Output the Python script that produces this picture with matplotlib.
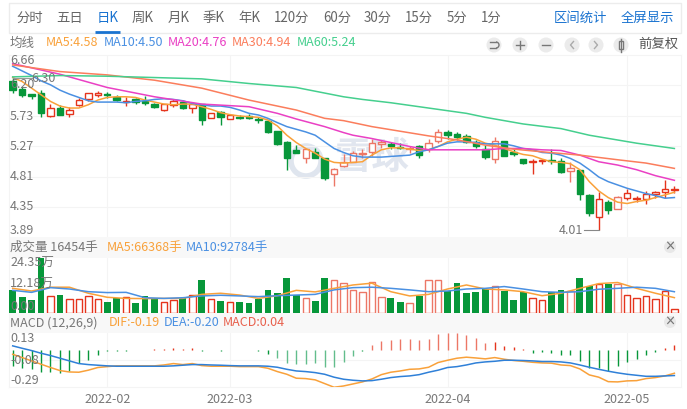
import matplotlib
matplotlib.use('Agg')
import matplotlib.pyplot as plt
from matplotlib.patches import Circle, Rectangle, Arc

plt.rcParams['font.family'] = ['Noto Sans CJK SC', 'DejaVu Sans']

# daily candles
opens = [6.26, 6.13, 6.06, 6.08, 5.735, 5.856, 5.755, 5.896, 5.99, 6.05, 6.067, 6.02, 5.94, 5.99, 5.956, 5.916,
         5.815, 5.896, 5.94, 5.85, 5.906, 5.705, 5.795, 5.69, 5.72, 5.725, 5.685, 5.655, 5.504, 5.343, 5.217,
         5.101, 5.192, 5.091, 4.85, 4.98, 5.04, 5.152, 5.192, 5.312, 5.312, 5.267, 5.232, 5.277, 5.232, 5.358,
         5.494, 5.454, 5.428, 5.333, 5.227, 5.076, 5.358, 5.192, 5.076, 5.03, 5.05, 5.071, 5.056, 4.90, 4.92,
         4.54, 4.206, 4.427, 4.332, 4.498, 4.475, 4.483, 4.56, 4.59, 4.62]
closes = [6.12, 6.04, 6.03, 5.77, 5.856, 5.745, 5.826, 5.97, 6.07, 6.07, 6.047, 5.97, 5.956, 5.94, 5.93, 5.86,
          5.91, 5.956, 5.846, 5.91, 5.67, 5.77, 5.71, 5.75, 5.695, 5.705, 5.67, 5.494, 5.307, 5.091, 5.167,
          5.232, 5.101, 4.79, 4.925, 5.04, 5.167, 5.177, 5.328, 5.338, 5.277, 5.247, 5.252, 5.141, 5.328, 5.483,
          5.444, 5.418, 5.342, 5.282, 5.116, 5.358, 5.132, 5.152, 5.02, 5.045, 5.066, 5.05, 4.88, 4.95, 4.55,
          4.26, 4.483, 4.306, 4.503, 4.573, 4.49, 4.558, 4.58, 4.63, 4.635]
highs = [6.30, 6.16, 6.06, 6.12, 5.91, 5.90, 5.87, 5.997, 6.07, 6.10, 6.09, 6.047, 6.01, 6.007, 6.03, 5.93,
         5.915, 5.987, 5.97, 5.936, 5.906, 5.77, 5.805, 5.76, 5.745, 5.76, 5.71, 5.66, 5.504, 5.358, 5.29,
         5.232, 5.242, 5.10, 4.95, 5.15, 5.20, 5.23, 5.38, 5.37, 5.34, 5.32, 5.28, 5.29, 5.38, 5.53,
         5.52, 5.494, 5.458, 5.368, 5.29, 5.41, 5.358, 5.226, 5.086, 5.076, 5.076, 5.226, 5.09, 5.03, 4.92,
         4.56, 4.59, 4.46, 4.52, 4.63, 4.53, 4.60, 4.60, 4.76, 4.67]
lows = [6.08, 6.01, 5.98, 5.72, 5.72, 5.745, 5.72, 5.88, 5.956, 6.01, 6.007, 5.956, 5.886, 5.91, 5.896, 5.846,
        5.805, 5.87, 5.835, 5.77, 5.594, 5.695, 5.594, 5.68, 5.68, 5.685, 5.62, 5.47, 5.29, 4.916, 5.167,
        5.025, 5.101, 4.765, 4.68, 4.965, 5.03, 5.10, 5.126, 5.25, 5.226, 5.226, 5.17, 5.10, 5.19, 5.33,
        5.39, 5.37, 5.317, 5.24, 5.08, 5.025, 5.132, 5.126, 5.01, 4.86, 5.006, 5.0, 4.865, 4.735, 4.47,
        4.226, 4.01, 4.246, 4.33, 4.47, 4.43, 4.41, 4.49, 4.50, 4.57]

ma5 = [6.31, 6.25, 6.15, 6.05, 5.95, 5.88, 5.85, 5.85, 5.90, 5.97, 6.01, 6.02, 6.02, 6.01, 5.97, 5.94, 5.91, 5.90,
       5.91, 5.91, 5.87, 5.83, 5.78, 5.75, 5.73, 5.72, 5.71, 5.67, 5.58, 5.44, 5.33, 5.24, 5.17, 5.08, 5.03, 5.02,
       5.03, 5.04, 5.14, 5.22, 5.25, 5.25, 5.23, 5.21, 5.22, 5.27, 5.34, 5.38, 5.41, 5.38, 5.32, 5.29, 5.24, 5.19,
       5.15, 5.13, 5.08, 5.04, 5.03, 5.01, 4.92, 4.74, 4.60, 4.50, 4.43, 4.41, 4.44, 4.46, 4.50, 4.54, 4.58]
ma10 = [6.48, 6.41, 6.34, 6.26, 6.20, 6.12, 6.06, 6.01, 5.96, 5.94, 5.94, 5.94, 5.93, 5.95, 5.96, 5.98, 5.99, 5.98,
        5.96, 5.92, 5.90, 5.88, 5.88, 5.86, 5.82, 5.77, 5.745, 5.695, 5.63, 5.57, 5.53, 5.49, 5.44, 5.34, 5.24, 5.18,
        5.13, 5.11, 5.11, 5.11, 5.12, 5.13, 5.14, 5.19, 5.22, 5.27, 5.32, 5.34, 5.34, 5.33, 5.31, 5.31, 5.31, 5.28,
        5.24, 5.22, 5.18, 5.17, 5.14, 5.09, 5.02, 4.92, 4.81, 4.74, 4.69, 4.64, 4.60, 4.56, 4.53, 4.49, 4.50]
ma20_idx = [0, 5, 10, 15, 20, 25, 28, 30, 33, 35, 36, 38, 40, 42, 44, 46, 48, 50, 52, 54, 56, 58, 60, 62, 64, 66, 68, 70]
ma20 = [6.52, 6.36, 6.16, 6.02, 5.91, 5.87, 5.77, 5.685, 5.57, 5.48, 5.44, 5.39, 5.33, 5.27, 5.22, 5.22, 5.22, 5.22,
        5.24, 5.24, 5.22, 5.21, 5.14, 5.04, 4.99, 4.92, 4.83, 4.76]
ma30_idx = [0, 5, 10, 15, 20, 25, 27, 30, 33, 35, 38, 41, 44, 47, 50, 53, 56, 60, 64, 67, 70]
ma30 = [6.50, 6.40, 6.35, 6.27, 6.15, 5.97, 5.91, 5.82, 5.695, 5.66, 5.57, 5.50, 5.43, 5.37, 5.29, 5.23, 5.19, 5.14,
        5.07, 5.02, 4.94]
ma60_idx = [0, 5, 10, 15, 20, 25, 30, 35, 37, 40, 45, 48, 50, 54, 58, 61, 66, 70]
ma60 = [6.32, 6.34, 6.33, 6.31, 6.29, 6.22, 6.16, 6.02, 5.98, 5.93, 5.83, 5.77, 5.71, 5.61, 5.54, 5.44, 5.32, 5.24]

# volume, in units of 10k shares
volume = [10.1, 6.9, 5.7, 24.35, 7.4, 7.8, 6.2, 6.2, 7.4, 6.2, 4.8, 6.5, 6.8, 4.4, 7.5, 6.5, 4.8, 5.6, 6.5, 7.8,
          14.3, 6.2, 5.3, 4.8, 4.8, 4.4, 5.9, 10.2, 8.9, 15.6, 7.7, 6.5, 5.3, 15.2, 14.3, 13.4, 10.1, 9.2, 13.8, 7.1,
          6.3, 4.8, 4.2, 7.4, 14.3, 14.3, 9.6, 13.4, 8.9, 9.3, 10.5, 12.0, 9.8, 5.7, 9.3, 6.6, 5.6, 9.0, 10.2, 9.6,
          15.3, 12.0, 12.9, 12.6, 12.9, 7.8, 6.6, 7.4, 6.2, 9.5, 1.65]
vol_idx = list(range(0, 71, 2))
vol_ma5 = [10.8, 9.6, 11.3, 11.3, 8.6, 6.8, 6.3, 6.2, 6.3, 6.3, 8.1, 8.6, 7.8, 6.3, 7.5, 9.9, 9.2, 10.8,
           12.3, 13.1, 9.3, 7.4, 8.1, 10.5, 12.3, 10.5, 10.1, 9.3, 7.5, 8.6, 10.8, 12.9, 13.4, 10.8, 8.6, 6.64]
vol_ma10 = [9.9, 9.0, 11.1, 10.5, 9.3, 8.9, 9.0, 6.6, 6.3, 6.6, 7.4, 7.7, 7.4, 7.1, 7.5, 7.8, 8.1, 10.1,
            11.1, 11.3, 10.8, 10.1, 9.3, 9.6, 10.5, 10.8, 11.6, 10.5, 9.3, 9.0, 9.3, 10.4, 10.8, 11.3, 10.8, 9.28]

dif = [-0.037, -0.063, -0.089, -0.115, -0.141, -0.165, -0.176, -0.178, -0.162, -0.141, -0.134, -0.128, -0.128, -0.128,
       -0.128, -0.128, -0.121, -0.110, -0.118, -0.110, -0.126, -0.131, -0.131, -0.131, -0.134, -0.134, -0.134, -0.147,
       -0.173, -0.194, -0.225, -0.228, -0.238, -0.267, -0.296, -0.286, -0.270, -0.254, -0.231, -0.197, -0.178, -0.168,
       -0.155, -0.152, -0.139, -0.102, -0.084, -0.068, -0.060, -0.066, -0.073, -0.063, -0.076, -0.086, -0.092, -0.100,
       -0.105, -0.107, -0.121, -0.126, -0.152, -0.199, -0.217, -0.252, -0.254, -0.246, -0.244, -0.228, -0.220, -0.207,
       -0.186]
dea = [0.029, 0.010, -0.008, -0.029, -0.047, -0.068, -0.089, -0.110, -0.118, -0.123, -0.128, -0.131, -0.131, -0.131,
       -0.131, -0.131, -0.131, -0.128, -0.123, -0.118, -0.118, -0.121, -0.123, -0.126, -0.128, -0.128, -0.128, -0.131,
       -0.139, -0.155, -0.168, -0.173, -0.181, -0.194, -0.217, -0.233, -0.241, -0.246, -0.244, -0.233, -0.220, -0.212,
       -0.207, -0.197, -0.178, -0.162, -0.141, -0.134, -0.121, -0.105, -0.097, -0.092, -0.084, -0.084, -0.086, -0.089,
       -0.094, -0.094, -0.097, -0.105, -0.121, -0.139, -0.155, -0.170, -0.183, -0.194, -0.202, -0.210, -0.210, -0.207,
       -0.204]
macd = [-0.128, -0.147, -0.155, -0.178, -0.176, -0.186, -0.165, -0.105, -0.081, -0.042, -0.013, -0.008, -0.008, -0.002,
        0.0, 0.002, 0.002, 0.016, 0.008, 0.016, -0.008, -0.006, -0.010, -0.006, -0.006, -0.006, -0.010, -0.031,
        -0.063, -0.102, -0.113, -0.110, -0.107, -0.134, -0.139, -0.094, -0.047, -0.010, 0.037, 0.068, 0.076, 0.086,
        0.086, 0.076, 0.084, 0.121, 0.128, 0.128, 0.113, 0.094, 0.052, 0.060, 0.026, 0.018, 0.005, -0.024,
        -0.021, -0.024, -0.039, -0.039, -0.089, -0.147, -0.147, -0.165, -0.128, -0.094, -0.073, -0.039, -0.016, 0.010,
        0.037]

price_ticks = [6.66, 6.20, 5.73, 5.27, 4.81, 4.35, 3.89]
month_idx = [10, 23, 46, 65]
month_labels = ['2022-02', '2022-03', '2022-04', '2022-05']
# candles and bars that look washed out in the picture
faded = [31, 34, 35, 36, 37, 38, 39, 42, 44, 45, 51, 59, 64]
periods = ['分时', '五日', '日K', '周K', '月K', '季K', '年K', '120分', '60分', '30分', '15分', '5分', '1分']

RED = '#e5341d'
SOFT_RED = '#ec7766'
GREEN = '#07973a'
SOFT_GREEN = '#62bd8c'
ORANGE = '#f9a13a'
BLUE = '#4a90e2'
PINK = '#ea40c4'
CORAL = '#fb7d5c'
MINT = '#45cf8e'
GRAY = '#777777'
GRID = '#f4f4f4'

W, H = 687, 409
fig = plt.figure(figsize=(W / 100, H / 100), dpi=100, facecolor='white')


def panel(left, top, right, bottom, zorder):
    a = fig.add_axes([left / W, 1 - bottom / H, (right - left) / W, (bottom - top) / H], zorder=zorder)
    a.patch.set_alpha(0)
    for s in a.spines.values():
        s.set_visible(False)
    a.set_xticks([])
    a.set_yticks([])
    return a


# pixel-space layers for the page furniture
bg = panel(0, 0, W, H, 0)
bg.set_xlim(0, W)
bg.set_ylim(H, 0)
top = panel(0, 0, W, H, 10)
top.set_xlim(0, W)
top.set_ylim(H, 0)

bg.add_patch(Rectangle((9, 3), 672, 30, fc='white', ec='#ececec', lw=1))
bg.add_patch(Rectangle((9, 237), 672, 21, fc='#f8f8f8', ec='none'))
bg.add_patch(Rectangle((9, 313), 672, 20, fc='#f8f8f8', ec='none'))
for xp in [9, 681]:
    bg.plot([xp, xp], [55, 387], color=GRID, lw=0.8)
bg.plot([9, 681], [55, 55], color=GRID, lw=0.8)
bg.plot([9, 681], [387, 387], color=GRID, lw=0.8)

# watermark
bg.add_patch(Circle((306, 161), 15, fc='none', ec='#dfe5ee', lw=4))
bg.text(372, 157, '雪球', fontsize=27, color='#e1e6ef', ha='center', va='center', fontweight='bold')

# period tabs
tab_x = [30, 70, 108, 143, 179, 214, 249, 292, 337, 378, 419, 457, 491]
for name, xp in zip(periods, tab_x):
    top.text(xp, 18, name, fontsize=9.6, color='#1a73d0' if name == '日K' else '#666666', ha='center', va='center')
top.plot([95, 120], [31.5, 31.5], color='#1a73d0', lw=2, solid_capstyle='butt')
top.text(580, 18, '区间统计', fontsize=9.6, color='#1a73d0', ha='center', va='center')
top.text(647, 18, '全屏显示', fontsize=9.6, color='#1a73d0', ha='center', va='center')

# legend rows
top.text(10, 43, '均线', fontsize=9, color=GRAY, va='center')
for txt, xp, col in [('MA5:4.58', 46, ORANGE), ('MA10:4.50', 104, BLUE), ('MA20:4.76', 168, PINK),
                     ('MA30:4.94', 232, CORAL), ('MA60:5.24', 297, MINT)]:
    top.text(xp, 43, txt, fontsize=9, color=col, va='center')
top.text(10, 247, '成交量 16454手', fontsize=9, color=GRAY, va='center')
top.text(107, 247, 'MA5:66368手', fontsize=9, color=ORANGE, va='center')
top.text(186, 247, 'MA10:92784手', fontsize=9, color=BLUE, va='center')
top.text(10, 323, 'MACD (12,26,9)', fontsize=9, color=GRAY, va='center')
top.text(109, 323, 'DIF:-0.19', fontsize=9, color=ORANGE, va='center')
top.text(164, 323, 'DEA:-0.20', fontsize=9, color=BLUE, va='center')
top.text(223, 323, 'MACD:0.04', fontsize=9, color='#e8604c', va='center')

# toolbar buttons
for xp in [494, 520, 546, 572, 596, 621]:
    bg.add_patch(Circle((xp, 45), 7.5, fc='#ebebeb', ec='none'))
ICON = '#777777'
top.add_patch(Arc((496, 45), 6, 6, theta1=-90, theta2=90, color=ICON, lw=1))
top.plot([490, 496], [42, 42], color=ICON, lw=1)
top.plot([490, 496], [48, 48], color=ICON, lw=1)
top.plot([516, 524], [45, 45], color=ICON, lw=1)
top.plot([520, 520], [41, 49], color=ICON, lw=1)
top.plot([542, 550], [45, 45], color=ICON, lw=1)
top.plot([573.5, 570.5, 573.5], [41.5, 45, 48.5], color='#aaaaaa', lw=1)
top.plot([594.5, 597.5, 594.5], [41.5, 45, 48.5], color='#aaaaaa', lw=1)
top.add_patch(Rectangle((619, 41), 4, 8, fc='white', ec=ICON, lw=1))
top.plot([621, 621], [38.5, 51.5], color=ICON, lw=1)
top.text(658, 44, '前复权', fontsize=9.6, color='#555555', ha='center', va='center')
for yp in [247, 322]:
    bg.add_patch(Circle((670, yp), 6, fc='#e8e8e8', ec='none'))
    top.text(670, yp, '×', fontsize=8, color='#777777', ha='center', va='center', fontweight='bold')

xlim = (-0.39, 70.7)
x = list(range(len(closes)))

# price panel
ax = panel(9, 55, 681, 237, 2)
ax.set_xlim(xlim)
ax.set_ylim(3.905, 6.65)
for m in month_idx:
    ax.axvline(m, color=GRID, lw=0.8, zorder=0)
for t in price_ticks[1:-1]:
    ax.axhline(t, color=GRID, lw=0.8, zorder=0)

for i in x:
    up = closes[i] >= opens[i]
    if up:
        col = SOFT_RED if i in faded else RED
    else:
        col = GREEN
    ax.vlines(i, lows[i], highs[i], color=col, lw=1, zorder=2)
    b0 = min(opens[i], closes[i])
    h = abs(closes[i] - opens[i])
    ax.bar(i, h, bottom=b0, width=0.68, facecolor='white' if up else GREEN, edgecolor=col, lw=1, zorder=3)

ax.plot(x, ma5, color=ORANGE, lw=1.1, zorder=4)
ax.plot(x, ma10, color=BLUE, lw=1.1, zorder=4)
ax.plot(ma20_idx, ma20, color=PINK, lw=1.1, zorder=4)
ax.plot(ma30_idx, ma30, color=CORAL, lw=1.1, zorder=4)
ax.plot(ma60_idx, ma60, color=MINT, lw=1.1, zorder=4)

# high / low markers
ax.plot([0, 2], [6.30, 6.30], color='#999999', lw=0.8, zorder=5)
ax.text(2.0, 6.30, '6.30', fontsize=9, color=GRAY, va='center', zorder=6)
ax.plot([60.4, 62], [4.01, 4.01], color='#888888', lw=0.8, zorder=5)
ax.text(60.3, 4.01, '4.01', fontsize=9, color=GRAY, va='center', ha='right', zorder=6)

# price labels, the first and last are pushed inside the panel
label_y = [60, 84, 116, 146, 177, 206, 231]
for t, yp in zip(price_ticks, label_y):
    top.text(10, yp, f'{t:.2f}', fontsize=9, color=GRAY, va='center')

# volume panel
vx = panel(9, 258, 681, 312.5, 2)
vx.set_xlim(xlim)
vx.set_ylim(0, 24.35)
for m in month_idx:
    vx.axvline(m, color=GRID, lw=0.8, zorder=0)
for i in x:
    if closes[i] >= opens[i]:
        col = SOFT_RED if i in faded else RED
        vx.bar(i, volume[i], width=0.68, facecolor='white', edgecolor=col, lw=1, zorder=2)
    else:
        vx.bar(i, volume[i], width=0.72, facecolor=GREEN, edgecolor='none', zorder=2)
vx.plot(vol_idx, vol_ma5, color=ORANGE, lw=1.1, zorder=3)
vx.plot(vol_idx, vol_ma10, color=BLUE, lw=1.1, zorder=3)
top.text(10, 263, '24.35万', fontsize=9, color=GRAY, va='center')
top.text(10, 284, '12.18万', fontsize=9, color=GRAY, va='center')
top.text(10, 306, '0.00', fontsize=9, color=GRAY, va='center')

# MACD panel
mx = panel(9, 333, 681, 387, 2)
mx.set_xlim(xlim)
mx.set_ylim(-0.294, 0.13)
for m in month_idx:
    mx.axvline(m, color=GRID, lw=0.8, zorder=0)
mx.axhline(-0.08, color=GRID, lw=0.8, zorder=0)
for i in x:
    if macd[i] >= 0:
        col = SOFT_RED if 38 <= i <= 50 else RED
    else:
        col = SOFT_GREEN if 28 <= i <= 36 else GREEN
    mx.vlines(i, 0, macd[i], color=col, lw=1, zorder=2)
mx.plot(x, dif, color=ORANGE, lw=1.1, zorder=3)
mx.plot(x, dea, color='#2f80d8', lw=1.1, zorder=3)
top.text(10, 338, '0.13', fontsize=9, color=GRAY, va='center')
top.text(10, 360, '-0.08', fontsize=9, color=GRAY, va='center')
top.text(10, 380, '-0.29', fontsize=9, color=GRAY, va='center')

# month labels under the MACD panel
for m, lab in zip(month_idx, month_labels):
    mx.annotate(lab, xy=(m, 0), xycoords=('data', 'axes fraction'), xytext=(0, -9), textcoords='offset points',
                fontsize=9, color=GRAY, ha='center', va='center', annotation_clip=False)

plt.savefig('out.png', dpi=100)
